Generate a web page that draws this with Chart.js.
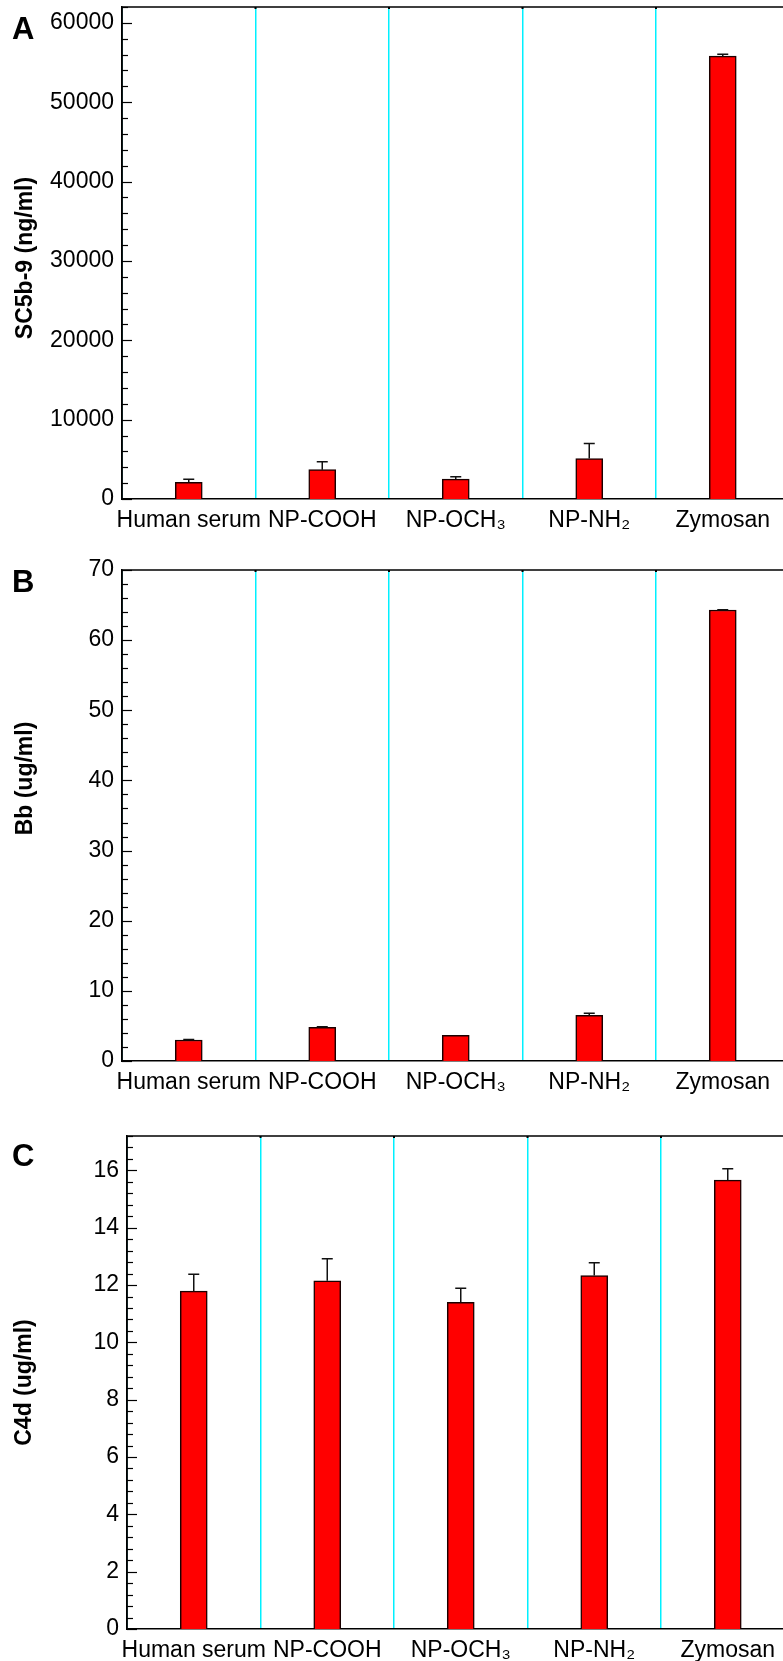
<!DOCTYPE html>
<html>
<head>
<meta charset="utf-8">
<script src="https://cdn.jsdelivr.net/npm/chart.js@4.4.0/dist/chart.umd.min.js"></script>
<style>
  html, body { margin: 0; padding: 0; background: #fff; overflow: hidden; width: 783px; height: 1661px; }
  .panel { position: absolute; left: 0; width: 800px; }
  .tag { position: absolute; left: 12px; font: bold 31px "Liberation Sans", Arial, sans-serif; line-height: 1; color: #000; z-index: 2; }
</style>
</head>
<body>
<div class="tag" style="top:13px">A</div>
<div class="tag" style="top:566px">B</div>
<div class="tag" style="top:1140px">C</div>
<div class="panel" style="top:-15px;height:560px"><canvas id="chartA"></canvas></div>
<div class="panel" style="top:545px;height:562px"><canvas id="chartB"></canvas></div>
<div class="panel" style="top:1107px;height:568px"><canvas id="chartC"></canvas></div>
<script>
// categories shared by all three panels
const groups = ['Human serum', 'NP-COOH', 'NP-OCH\u2083', 'NP-NH\u2082', 'Zymosan'];

// A - SC5b-9
const sc5b9 = [2100, 3700, 2500, 5100, 55800];
const sc5b9Err = [380, 1000, 300, 1900, 250];
const ticksA = [0, 10000, 20000, 30000, 40000, 50000, 60000];
// B - Bb
const bb = [3.0, 4.8, 3.65, 6.5, 64.3];
const bbErr = [0.05, 0.1, 0, 0.3, 0.05];
const ticksB = [0, 10, 20, 30, 40, 50, 60, 70];
// C - C4d
const c4d = [11.79, 12.15, 11.40, 12.33, 15.66];
const c4dErr = [0.59, 0.77, 0.49, 0.45, 0.4];
const ticksC = [0, 2, 4, 6, 8, 10, 12, 14, 16];

const FONT = '"Liberation Sans", Arial, Helvetica, sans-serif';

// inward ticks, top frame line, upper error bars and the y title
const decor = {
  id: 'decor',
  afterDatasetsDraw(chart, args, opts) {
    const { ctx, chartArea: a, scales: { x, y } } = chart;
    ctx.save();
    ctx.strokeStyle = '#000';
    ctx.lineWidth = 1.5;
    ctx.beginPath();
    ctx.moveTo(a.left, a.top); ctx.lineTo(a.right, a.top);
    ctx.moveTo(a.left, a.top); ctx.lineTo(a.left, a.bottom);
    ctx.stroke();

    // little marks where the separators meet the top frame
    ctx.lineWidth = 2;
    for (let i = 1; i < groups.length; i++) {
      const bx = (x.getPixelForValue(i - 1) + x.getPixelForValue(i)) / 2;
      ctx.beginPath();
      ctx.moveTo(bx, a.top); ctx.lineTo(bx, a.top + 2);
      ctx.stroke();
    }

    ctx.lineWidth = 1.2;
    const n = Math.round(y.max / opts.minor);
    for (let k = 0; k <= n; k++) {
      const v = k * opts.minor;
      const py = Math.round(y.getPixelForValue(v)) + 0.5;
      const major = opts.majors.some(m => Math.abs(m - v) < 1e-6);
      ctx.beginPath();
      ctx.moveTo(a.left, py);
      ctx.lineTo(a.left + (major ? 10 : 6), py);
      ctx.stroke();
    }

    const vals = chart.data.datasets[0].data;
    const meta = chart.getDatasetMeta(0);
    ctx.strokeStyle = '#111';
    ctx.lineWidth = 1.5;
    meta.data.forEach((bar, i) => {
      const e = opts.errors[i];
      if (!e) return;
      const y0 = y.getPixelForValue(vals[i]);
      const y1 = y.getPixelForValue(vals[i] + e);
      ctx.beginPath();
      ctx.moveTo(bar.x, y0); ctx.lineTo(bar.x, y1);
      ctx.moveTo(bar.x - 5.5, y1); ctx.lineTo(bar.x + 5.5, y1);
      ctx.stroke();
    });

    // axis title
    ctx.translate(opts.titleX, (a.top + a.bottom) / 2 + opts.titleShift);
    ctx.rotate(-Math.PI / 2);
    ctx.fillStyle = '#000';
    ctx.font = 'bold 23px ' + FONT;
    ctx.textAlign = 'center';
    ctx.textBaseline = 'middle';
    ctx.fillText(opts.title, 0, 0);
    ctx.restore();
  }
};

function makeChart(id, values, errors, tickVals, cfg) {
  return new Chart(document.getElementById(id), {
    type: 'bar',
    data: {
      labels: groups,
      datasets: [{
        data: values,
        backgroundColor: '#ff0000',
        borderColor: '#1a0000',
        borderWidth: 1.5,
        barThickness: 27
      }]
    },
    options: {
      responsive: true,
      maintainAspectRatio: false,
      animation: false,
      layout: { padding: { top: cfg.padTop, right: cfg.padRight, left: 0, bottom: 0 } },
      plugins: {
        legend: { display: false },
        tooltip: { enabled: false },
        decor: { minor: cfg.minor, majors: tickVals, errors: errors, title: cfg.title, titleX: cfg.titleX, titleShift: cfg.titleShift }
      },
      scales: {
        x: {
          border: { display: true, color: '#000', width: 1.5 },
          grid: { display: true, offset: true, color: '#00f0ff', lineWidth: 1.5, drawTicks: false },
          ticks: { color: '#000', font: { size: 23, family: FONT }, padding: 8, maxRotation: 0, autoSkip: false },
          afterFit: s => { s.height = 46; }
        },
        y: {
          min: 0,
          max: cfg.max,
          border: { display: true, color: '#000', width: 1.5 },
          grid: { display: false, drawTicks: false },
          ticks: { color: '#000', font: { size: 23, family: FONT }, padding: 8, callback: v => String(v) },
          afterBuildTicks: s => { s.ticks = tickVals.map(v => ({ value: v })); },
          afterFit: s => { s.width = cfg.yWidth; }
        }
      }
    },
    plugins: [decor]
  });
}

makeChart('chartA', sc5b9, sc5b9Err, ticksA, { max: 62000, minor: 2000, title: 'SC5b-9 (ng/ml)', titleX: 26, titleShift: 5, yWidth: 122, padTop: 22, padRight: 10.5 });
makeChart('chartB', bb, bbErr, ticksB, { max: 70, minor: 2, title: 'Bb (ug/ml)', titleX: 26, titleShift: -37, yWidth: 122, padTop: 25, padRight: 10.5 });
makeChart('chartC', c4d, c4dErr, ticksC, { max: 17.2, minor: 0.4, title: 'C4d (ug/ml)', titleX: 25, titleShift: 0, yWidth: 127, padTop: 29, padRight: 5.5 });
</script>
</body>
</html>
